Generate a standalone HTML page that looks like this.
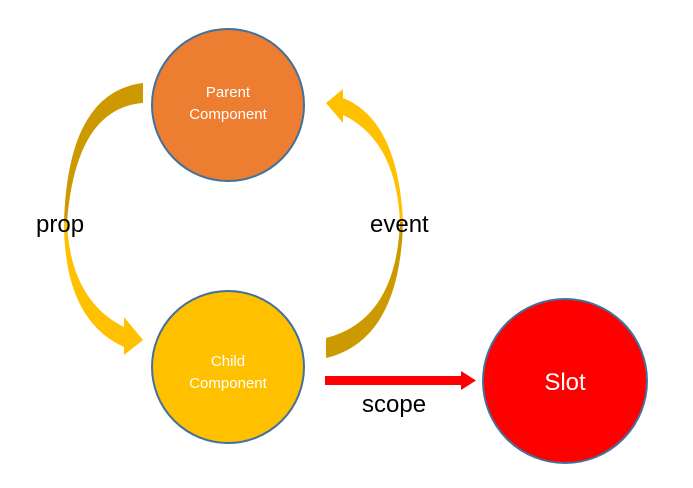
<html><body style="margin:0;background:#fff;width:693px;height:488px;overflow:hidden">
<svg width="693" height="488" viewBox="0 0 693 488" xmlns="http://www.w3.org/2000/svg" style="font-family:'Liberation Sans',sans-serif">
<path d="M143,83 Q68,92 64,222 L67,222 Q76,108 143,103 Z" fill="#CC9900"/>
<path d="M64,222 Q64,320 124,347 L124,355 L143,340 L124,317 L124,327 Q70,300 67,222 Z" fill="#FFC000"/>
<path d="M403,222 Q398,120 343,98 L343,89 L326,103 L343,123 L343,115 Q396,140 400,222 Z" fill="#FFC000"/>
<path d="M403,222 Q400,340 326,358 L326,338 Q396,320 400,222 Z" fill="#CC9900"/>
<circle cx="228" cy="105" r="76" fill="#ED7D31" stroke="#41719C" stroke-width="2"/>
<circle cx="228" cy="367" r="76" fill="#FFC000" stroke="#41719C" stroke-width="2"/>
<circle cx="565" cy="381" r="82" fill="#FF0000" stroke="#41719C" stroke-width="2"/>
<text x="228" y="97" fill="#fff" font-size="15" text-anchor="middle">Parent</text>
<text x="228" y="119" fill="#fff" font-size="15" text-anchor="middle">Component</text>
<text x="228" y="366" fill="#fff" font-size="15" text-anchor="middle">Child</text>
<text x="228" y="388" fill="#fff" font-size="15" text-anchor="middle">Component</text>
<text x="565" y="390" fill="#fff" font-size="24" text-anchor="middle">Slot</text>
<rect x="325" y="376" width="138" height="9" fill="#FF0000"/>
<polygon points="461,371 476,380.5 461,390" fill="#FF0000"/>
<text x="36" y="232" font-size="24" fill="#000">prop</text>
<text x="370" y="232" font-size="24" fill="#000">event</text>
<text x="362" y="412" font-size="24" fill="#000">scope</text>
</svg>
</body></html>
